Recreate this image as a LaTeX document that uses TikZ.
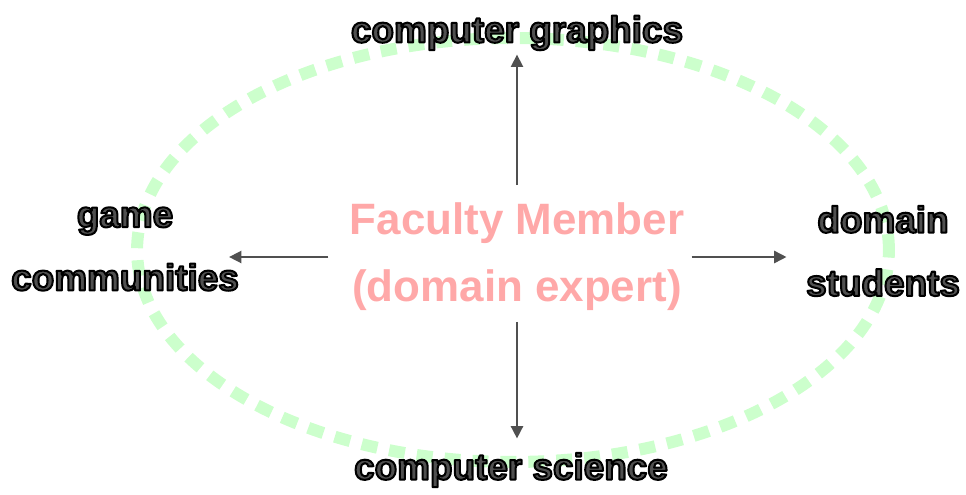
\documentclass[tikz,border=0pt]{standalone}
\usepackage{fontspec}
\setmainfont{Liberation Sans}
\usetikzlibrary{arrows.meta}
\definecolor{ringgreen}{HTML}{CCFFCC}
\definecolor{facpink}{HTML}{FFA8A8}
\definecolor{lblgray}{HTML}{505050}
\definecolor{arrgray}{HTML}{505050}
% outlined label text: fill grey, stroke black
\newcommand{\olbl}[1]{{\color{lblgray}\special{pdf:code q 2 Tr 1.15 w 0 G 1 j}#1\special{pdf:code Q}}}
\tikzset{
  lbl/.style={font=\fontsize{21}{36}\selectfont\bfseries, align=center, inner sep=0pt},
  facbox/.style={font=\fontsize{25}{38}\selectfont\bfseries, text=facpink, align=center, inner sep=0pt},
  arr/.style={draw=arrgray, line width=0.9pt, -{Triangle[length=7pt,width=7pt]}}
}
\begin{document}
\begin{tikzpicture}[x=0.02cm,y=-0.02cm]
    \useasboundingbox (0,0) rectangle (966,494);
    \draw[ringgreen, line width=0.24cm, dash pattern=on 0.32cm off 0.24cm]
      (513,250) ellipse [x radius=7.52cm, y radius=4.24cm];

    \node[facbox] (fac) at (517,257) {Faculty Member\\(domain expert)};
    \node[lbl] (cg) at (517,33) {\olbl{computer graphics}};
    \node[lbl] (cs) at (511,470) {\olbl{computer science}};
    \node[lbl] (gc) at (125,249) {\olbl{game}\\\olbl{communities}};
    \node[lbl] (ds) at (883,251) {\olbl{domain}\\\olbl{students}};

    \draw[arr, shorten <=10pt, shorten >=2.3pt] (fac.north) -- (cg.south);
    \draw[arr, shorten <=6pt, shorten >=8pt] (fac.south) -- (fac.south |- cs.north);
    \draw[arr, shorten <=12pt, shorten >=-5.7pt] (fac.west) -- (fac.west -| gc.east);
    \draw[arr, shorten <=4pt, shorten >=11pt] (fac.east) -- (fac.east -| ds.west);
\end{tikzpicture}
\end{document}
